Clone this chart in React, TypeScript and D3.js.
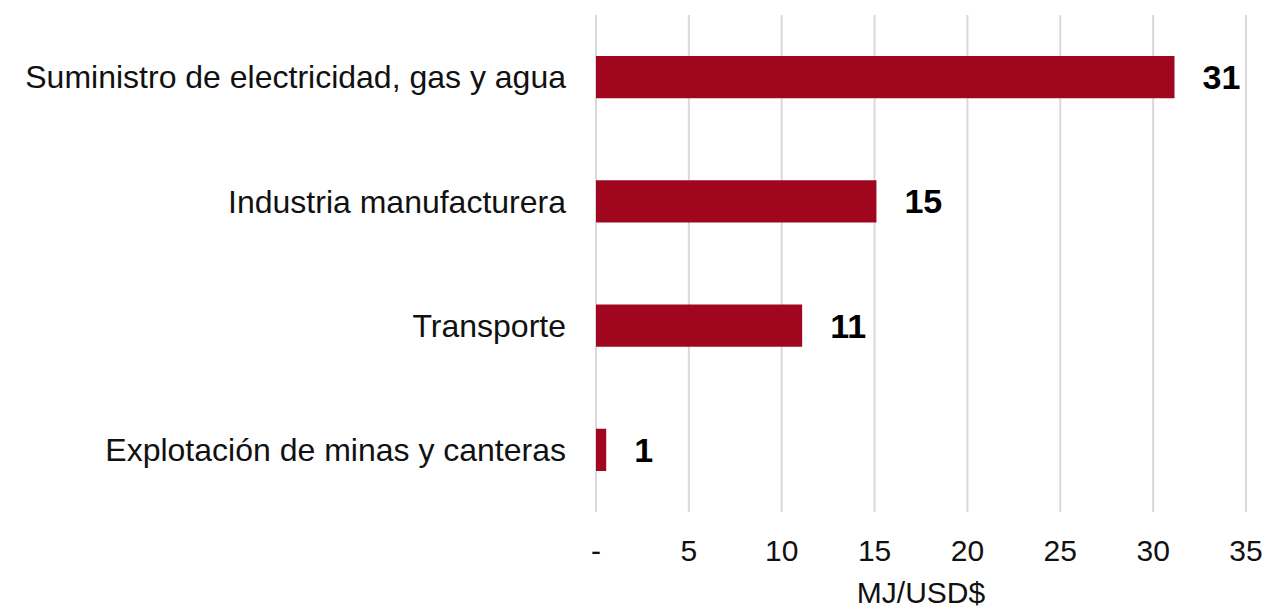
import * as d3 from "d3";
import React, { useEffect, useRef } from "react";

const categories = [
  "Suministro de electricidad, gas y agua",
  "Industria manufacturera",
  "Transporte",
  "Explotación de minas y canteras",
];
const values = [31.15, 15.1, 11.1, 0.55];
const tickValues = [0, 5, 10, 15, 20, 25, 30, 35];
const axisTitle = "MJ/USD$";

const WIDTH = 1266;
const HEIGHT = 608;
const FONT = "'Liberation Sans', Arial, sans-serif";

const App: React.FC = () => {
  const ref = useRef<SVGSVGElement>(null);

  useEffect(() => {
    const svg = d3.select(ref.current);
    svg.selectAll("*").remove();

    const left = 596;
    const right = 1246;
    const top = 15;
    const bottom = 512;

    const x = d3.scaleLinear().domain([0, 35]).range([left, right]);
    const y = d3
      .scaleBand<string>()
      .domain(categories)
      .range([top, bottom])
      .paddingInner(0.66)
      .paddingOuter(0.33);

    // gridlines
    svg
      .append("g")
      .selectAll("line")
      .data(tickValues)
      .join("line")
      .attr("x1", (d) => x(d))
      .attr("x2", (d) => x(d))
      .attr("y1", top)
      .attr("y2", bottom)
      .attr("stroke", "#d9d9d9")
      .attr("stroke-width", 2);

    // bars
    svg
      .append("g")
      .selectAll("rect")
      .data(values)
      .join("rect")
      .attr("x", x(0))
      .attr("y", (_, i) => y(categories[i]) as number)
      .attr("width", (d) => x(d) - x(0))
      .attr("height", y.bandwidth())
      .attr("fill", "#a0061e");

    // value labels
    svg
      .append("g")
      .selectAll("text")
      .data(values)
      .join("text")
      .attr("x", (d) => x(d) + 28)
      .attr("y", (_, i) => (y(categories[i]) as number) + y.bandwidth() / 2)
      .attr("dy", "0.35em")
      .attr("font-family", FONT)
      .attr("font-size", 34)
      .attr("font-weight", "bold")
      .attr("fill", "#000")
      .text((d) => d3.format(".0f")(d));

    // category labels
    svg
      .append("g")
      .selectAll("text")
      .data(categories)
      .join("text")
      .attr("x", left - 30)
      .attr("y", (d) => (y(d) as number) + y.bandwidth() / 2)
      .attr("dy", "0.35em")
      .attr("text-anchor", "end")
      .attr("font-family", FONT)
      .attr("font-size", 32)
      .attr("fill", "#111")
      .text((d) => d);

    // x tick labels
    svg
      .append("g")
      .selectAll("text")
      .data(tickValues)
      .join("text")
      .attr("x", (d) => x(d))
      .attr("y", 550)
      .attr("dy", "0.35em")
      .attr("text-anchor", "middle")
      .attr("font-family", FONT)
      .attr("font-size", 30)
      .attr("fill", "#111")
      .text((d) => (d === 0 ? "-" : String(d)));

    svg
      .append("text")
      .attr("x", (left + right) / 2)
      .attr("y", 603)
      .attr("font-family", FONT)
      .attr("text-anchor", "middle")
      .attr("font-size", 30)
      .attr("fill", "#111")
      .text(axisTitle);
  }, []);

  return (
    <svg
      ref={ref}
      width={WIDTH}
      height={HEIGHT}
      style={{ position: "absolute", left: 0, top: 0, background: "#fff" }}
    />
  );
};

export default App;
